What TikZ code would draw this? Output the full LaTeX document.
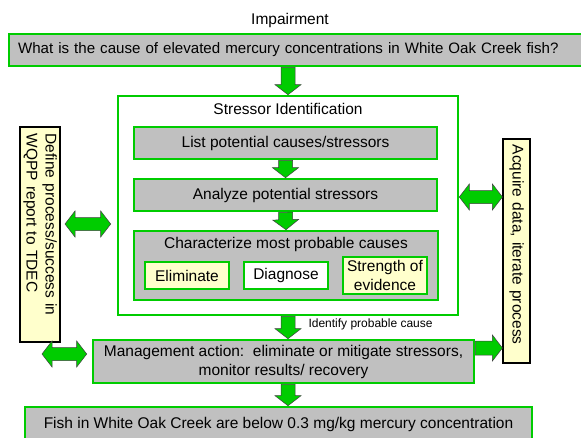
\documentclass[tikz,border=0pt]{standalone}
\usepackage{fontspec}
\setmainfont{Liberation Sans}
\usetikzlibrary{calc}
\definecolor{boxgreen}{RGB}{0,204,0}
\definecolor{boxgray}{RGB}{192,192,192}
\definecolor{noteyellow}{RGB}{255,255,204}
\begin{document}
\begin{tikzpicture}[x=1pt,y=-1pt,
  every node/.style={font=\fontsize{15.5}{19}\selectfont},
  graybox/.style={draw=boxgreen, fill=boxgray, line width=2.6pt, inner sep=2pt},
  frame/.style={draw=boxgreen, fill=white, line width=2.6pt},
  notebox/.style={draw=black, fill=noteyellow, line width=1.6pt, rotate=-90, align=left, anchor=north west},
  tagbox/.style={draw=boxgreen, line width=2pt, minimum width=84pt, minimum height=27pt, inner sep=1pt},
  arrowbody/.style={draw=black!75, fill=boxgreen, line width=0.5pt},
  onearrow/.style={arrowbody, to path={
      ($(\tikztostart)!7pt!90:(\tikztotarget)$)
   -- ($($(\tikztotarget)!10pt!(\tikztostart)$)!7pt!90:(\tikztotarget)$)
   -- ($($(\tikztotarget)!10pt!(\tikztostart)$)!13pt!90:(\tikztotarget)$)
   -- (\tikztotarget)
   -- ($($(\tikztotarget)!10pt!(\tikztostart)$)!13pt!-90:(\tikztotarget)$)
   -- ($($(\tikztotarget)!10pt!(\tikztostart)$)!7pt!-90:(\tikztotarget)$)
   -- ($(\tikztostart)!7pt!-90:(\tikztotarget)$) -- cycle}},
  twoarrow/.style={arrowbody, to path={
      ($($(\tikztostart)!10pt!(\tikztotarget)$)!6.5pt!90:(\tikztotarget)$)
   -- ($($(\tikztotarget)!10pt!(\tikztostart)$)!6.5pt!-90:(\tikztostart)$)
   -- ($($(\tikztotarget)!10pt!(\tikztostart)$)!13pt!-90:(\tikztostart)$)
   -- (\tikztotarget)
   -- ($($(\tikztotarget)!10pt!(\tikztostart)$)!13pt!90:(\tikztostart)$)
   -- ($($(\tikztotarget)!10pt!(\tikztostart)$)!6.5pt!90:(\tikztostart)$)
   -- ($($(\tikztostart)!10pt!(\tikztotarget)$)!6.5pt!-90:(\tikztotarget)$)
   -- ($($(\tikztostart)!10pt!(\tikztotarget)$)!13pt!-90:(\tikztotarget)$)
   -- (\tikztostart)
   -- ($($(\tikztostart)!10pt!(\tikztotarget)$)!13pt!90:(\tikztotarget)$) -- cycle}}]
\useasboundingbox (0,0) rectangle (581,437);

% top of the chart
\node (imp) at (290,20) {Impairment};
\node[graybox, minimum width=577pt, minimum height=32pt, text width=559pt, inner xsep=9pt, align=left, font=\fontsize{15.1}{19}\selectfont] (q) at (297.5,50) {What is the cause of elevated mercury concentrations in White Oak Creek fish?};

% stressor identification block
\node[frame, minimum width=340pt, minimum height=219pt] (si) at (288,205.5) {};
\node (sititle) at (288,109) {Stressor Identification};
\node[graybox, minimum width=303pt, minimum height=32pt] (list) at (285.5,143) {List potential causes/stressors};
\node[graybox, minimum width=303pt, minimum height=32pt] (anal) at (285.5,195) {Analyze potential stressors};
\node[graybox, minimum width=304pt, minimum height=69pt] (char) at (286,265.5) {};
\node (chartitle) at (286,244) {Characterize most probable causes};
\node[tagbox, fill=noteyellow] (elim) at (187,275.5) {Eliminate};
\node[tagbox, fill=white] (diag) at (286,275.5) {Diagnose};
\node[tagbox, fill=noteyellow, minimum height=37pt, align=center] (evid) at (385,275.5) {Strength of\\evidence};

% side notes
\node[notebox, minimum width=215pt, minimum height=40pt, text width=201pt, inner xsep=7pt] (def) at (61,126) {Define process/success in\\WQPP report to TDEC};
\node[notebox, minimum width=224pt, minimum height=27pt, text width=212pt, inner xsep=6pt] (acq) at (531,138) {Acquire data, iterate process};

% bottom of the chart
\node[graybox, minimum width=381pt, minimum height=43pt, align=center] (mgmt) at (283.5,361.5) {Management action:\ \ eliminate or mitigate stressors,\\monitor results/ recovery};
\node[graybox, minimum width=507pt, minimum height=34pt] (fish) at (278.5,424) {Fish in White Oak Creek are below 0.3 mg/kg mercury concentration};
\node[anchor=west, font=\fontsize{12}{14}\selectfont] (idcause) at (305,324) {Identify probable cause};
\coordinate (mgleft) at (42,354);

% block arrows
\draw[onearrow] (si.north |- q.south) to (si.north);
\draw[onearrow] (list.south) to (anal.north);
\draw[onearrow] (anal.south) to (char.north);
\draw[onearrow] (si.south) to (si.south |- mgmt.north);
\draw[onearrow] (si.south |- mgmt.south) to (si.south |- fish.north);
\draw[onearrow] (mgmt.east |- 0,348) to (acq.south |- 0,348);
\draw[twoarrow] ($(def.north |- 0,224)+(4,0)$) to ($(si.west |- 0,224)+(-6,0)$);
\draw[twoarrow] (si.east |- 0,197) to (acq.south |- 0,197);
\draw[twoarrow] (mgleft) to ($(mgmt.west |- mgleft)+(-5,0)$);
\end{tikzpicture}
\end{document}
